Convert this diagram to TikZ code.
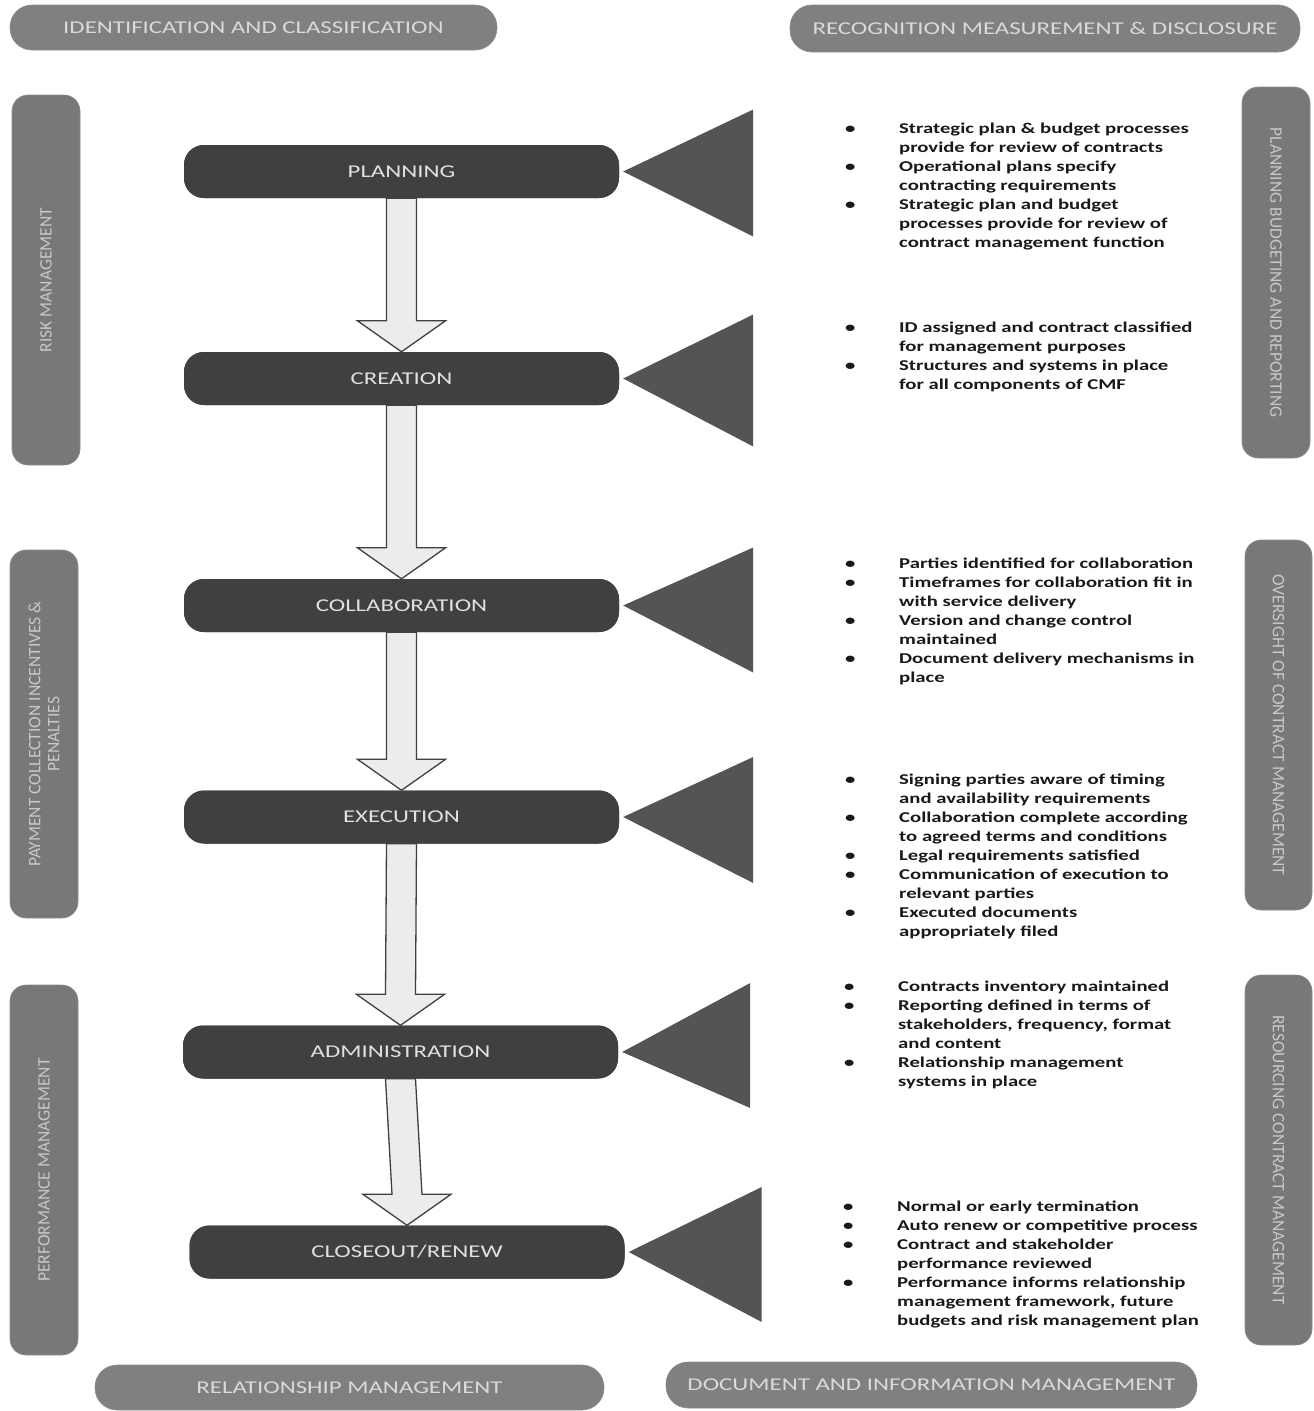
\documentclass[tikz,border=0pt]{standalone}
\usepackage{fontspec}
\setmainfont{Carlito}
\newfontfamily\wide[FakeStretch=1.38]{Carlito}
\usetikzlibrary{calc}
\definecolor{barfill}{RGB}{128,128,128}
\definecolor{bartext}{RGB}{218,218,218}
\definecolor{vbarfill}{RGB}{120,120,120}
\definecolor{vbartext}{RGB}{200,200,200}
\definecolor{pillfill}{RGB}{64,64,64}
\definecolor{pilltext}{RGB}{225,225,225}
\definecolor{trifill}{RGB}{84,84,84}
\definecolor{arrowfill}{RGB}{236,236,236}
\tikzset{
 hbar/.style={draw=black!45, line width=0.6pt, fill=barfill, rounded corners=22pt, text=bartext, inner sep=0pt, font=\wide\fontsize{18}{20}\selectfont},
 vbar/.style={draw=black!45, line width=0.6pt, fill=vbarfill, rounded corners=16pt, text=vbartext, inner sep=0pt, align=center, font=\fontsize{17.5}{19}\selectfont},
 pill/.style={fill=pillfill, rounded corners=20pt, text=pilltext, minimum width=435pt, minimum height=53pt, inner sep=0pt, font=\wide\fontsize{18}{20}\selectfont},
 blockarr/.style={fill=arrowfill, draw=black!75, line width=1.3pt, line join=miter},
 trishape/.style={fill=trifill},
 bullets/.style={anchor=north west, inner sep=0pt, align=left, font=\wide\bfseries\fontsize{15}{19}\selectfont, text=black!90}
}
\newcommand\bul{\makebox[54pt][l]{\textbullet}}
\newcommand\cont{\hspace*{54pt}}
\newcommand\firstline{\rule{0pt}{12pt}}
\newcommand\barrow[2]{%
 \draw[blockarr] ($(#1.south)+(-15,0)$) -- ($(#2.north)+(-15,-31)$) -- ($(#2.north)+(-44,-31)$) -- (#2.north) -- ($(#2.north)+(44,-31)$) -- ($(#2.north)+(15,-31)$) -- ($(#1.south)+(15,0)$) -- cycle;}
\newcommand\tri[4]{%
 \fill[trishape] ($(#1.east)+(4,0)$) -- ($(#1.east)+(#4,#2)$) -- ($(#1.east)+(#4,#3)$) -- cycle;}
\begin{document}
\begin{tikzpicture}[x=1pt,y=-1pt]
\useasboundingbox (0,0) rectangle (1314,1411);
\fill[white] (0,0) rectangle (1314,1411);

% horizontal bars
\node[hbar, minimum width=487pt, minimum height=45pt] (idc) at (253.5,27.5) {IDENTIFICATION AND CLASSIFICATION};
\node[hbar, minimum width=510pt, minimum height=47pt] (rmd) at (1045,28.5) {RECOGNITION MEASUREMENT \& DISCLOSURE};
\node[hbar, minimum width=509pt, minimum height=45pt] (rel) at (349.5,1387.5) {RELATIONSHIP MANAGEMENT};
\node[hbar, minimum width=531pt, minimum height=46pt] (dim) at (931.5,1385) {DOCUMENT AND INFORMATION MANAGEMENT};

% vertical bars
\node[vbar, rotate=90, minimum width=370pt, minimum height=68pt] (risk) at (46,280) {RISK MANAGEMENT};
\node[vbar, rotate=90, minimum width=368pt, minimum height=68pt] (pay) at (44,734) {PAYMENT COLLECTION INCENTIVES \&\\PENALTIES};
\node[vbar, rotate=90, minimum width=370pt, minimum height=68pt] (perf) at (44,1170) {PERFORMANCE MANAGEMENT};
\node[vbar, rotate=-90, minimum width=371pt, minimum height=68pt] (pbr) at (1276,272.5) {PLANNING BUDGETING AND REPORTING};
\node[vbar, rotate=-90, minimum width=370pt, minimum height=67pt] (ocm) at (1278.5,725) {OVERSIGHT OF CONTRACT MANAGEMENT};
\node[vbar, rotate=-90, minimum width=370pt, minimum height=67pt] (rcm) at (1278.5,1160) {RESOURCING CONTRACT MANAGEMENT};

% stage pills
\node[pill] (plan) at (401.5,171.5) {PLANNING};
\node[pill] (crea) at (401.5,378.5) {CREATION};
\node[pill] (coll) at (401.5,605.5) {COLLABORATION};
\node[pill] (exec) at (401.5,817) {EXECUTION};
\node[pill] (admn) at (400.5,1052) {ADMINISTRATION};
\node[pill] (clos) at (407,1252) {CLOSEOUT/RENEW};

% block arrows
\barrow{plan}{crea}
\barrow{crea}{coll}
\barrow{coll}{exec}
\barrow{exec}{admn}
\barrow{admn}{clos}

% pills drawn again over the arrow shafts
\node[pill] at (plan) {PLANNING};
\node[pill] at (crea) {CREATION};
\node[pill] at (coll) {COLLABORATION};
\node[pill] at (exec) {EXECUTION};
\node[pill] at (admn) {ADMINISTRATION};
\node[pill] at (clos) {CLOSEOUT/RENEW};

% triangles
\tri{plan}{-62}{65}{134}
\tri{crea}{-64}{68}{134}
\tri{coll}{-58}{67}{134}
\tri{exec}{-60}{66}{134}
\tri{admn}{-69}{56}{132}
\tri{clos}{-65}{70}{137}

% bullet texts
\node[bullets] (t1) at (845,121) {\firstline\bul Strategic plan \& budget processes\\
\cont provide for review of contracts\\
\bul Operational plans specify\\
\cont contracting requirements\\
\bul Strategic plan and budget\\
\cont processes provide for review of\\
\cont contract management function};

\node[bullets] (t2) at (845,320) {\firstline\bul ID assigned and contract classified\\
\cont for management purposes\\
\bul Structures and systems in place\\
\cont for all components of CMF};

\node[bullets] (t3) at (845,556) {\firstline\bul Parties identified for collaboration\\
\bul Timeframes for collaboration fit in\\
\cont with service delivery\\
\bul Version and change control\\
\cont maintained\\
\bul Document delivery mechanisms in\\
\cont place};

\node[bullets] (t4) at (845,772) {\firstline\bul Signing parties aware of timing\\
\cont and availability requirements\\
\bul Collaboration complete according\\
\cont to agreed terms and conditions\\
\bul Legal requirements satisfied\\
\bul Communication of execution to\\
\cont relevant parties\\
\bul Executed documents\\
\cont appropriately filed};

\node[bullets] (t5) at (844,979) {\firstline\bul Contracts inventory maintained\\
\bul Reporting defined in terms of\\
\cont stakeholders, frequency, format\\
\cont and content\\
\bul Relationship management\\
\cont systems in place};

\node[bullets] (t6) at (843,1199) {\firstline\bul Normal or early termination\\
\bul Auto renew or competitive process\\
\bul Contract and stakeholder\\
\cont performance reviewed\\
\bul Performance informs relationship\\
\cont management framework, future\\
\cont budgets and risk management plan};
\end{tikzpicture}
\end{document}
